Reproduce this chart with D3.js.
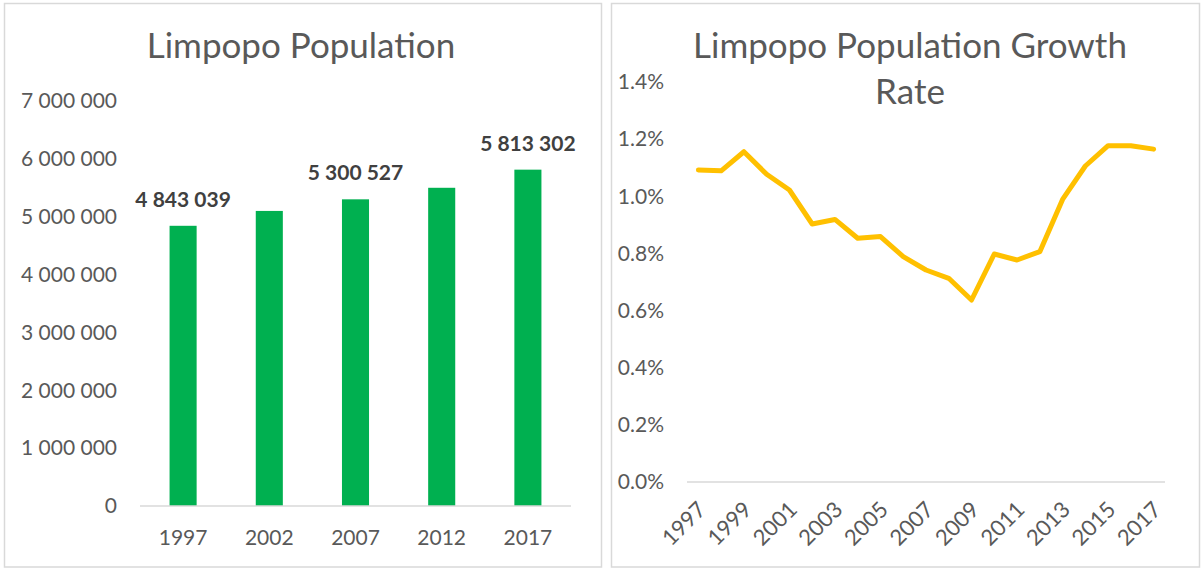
<!DOCTYPE html>
<html>
<head>
<meta charset="utf-8">
<script src="https://cdn.jsdelivr.net/npm/d3@7"></script>
<style>
  html, body { margin: 0; padding: 0; background: #fff; }
  svg { display: block; font-family: Lato, 'Open Sans', sans-serif; }
</style>
</head>
<body>
<svg id="chart" width="1203" height="569"></svg>
<script>
// left chart: population
const popYears = ['1997', '2002', '2007', '2012', '2017'];
const popValues = [4843039, 5100000, 5300527, 5500000, 5813302];
const popLabelled = ['1997', '2007', '2017'];
const popTicks = [0, 1000000, 2000000, 3000000, 4000000, 5000000, 6000000, 7000000];

// right chart: growth rate (%)
const rateYears = d3.range(1997, 2018).map(String);
const rateValues = [1.092, 1.089, 1.156, 1.077, 1.022, 0.903, 0.919, 0.853, 0.859, 0.789,
  0.742, 0.713, 0.637, 0.798, 0.777, 0.806, 0.989, 1.106, 1.177, 1.177, 1.165];
const rateTickLabels = ['1997', '1999', '2001', '2003', '2005', '2007', '2009', '2011', '2013', '2015', '2017'];
const rateTicks = [0, 0.2, 0.4, 0.6, 0.8, 1.0, 1.2, 1.4];

const textColor = '#595959';
const gridColor = '#d9d9d9';

const svg = d3.select('#chart');
const locale = d3.formatLocale({ decimal: '.', thousands: ' ', grouping: [3], currency: ['', ''] });
const fmtPop = locale.format(',d');

// panel frames
svg.append('rect').attr('x', 4.5).attr('y', 3.5).attr('width', 597).attr('height', 563.5)
  .attr('fill', 'none').attr('stroke', gridColor).attr('stroke-width', 1.5);
svg.append('rect').attr('x', 611.5).attr('y', 3.5).attr('width', 588).attr('height', 563.5)
  .attr('fill', 'none').attr('stroke', gridColor).attr('stroke-width', 1.5);

// ---------- left ----------
const left = svg.append('g');
const x1 = d3.scaleBand().domain(popYears).range([140, 571]);
const y1 = d3.scaleLinear().domain([0, 7000000]).range([506, 101]);
const barW = x1.bandwidth() * 0.314;

left.append('text')
  .attr('x', 301).attr('y', 58)
  .attr('text-anchor', 'middle')
  .attr('fill', textColor)
  .style('font-size', '35px')
  .text('Limpopo Population');

left.append('g').selectAll('text')
  .data(popTicks)
  .enter()
  .append('text')
  .attr('x', 117)
  .attr('y', (d) => y1(d))
  .attr('dy', '0.35em')
  .attr('text-anchor', 'end')
  .attr('fill', textColor)
  .style('font-size', '21px')
  .text((d) => fmtPop(d));

left.append('g').selectAll('rect')
  .data(popYears)
  .enter()
  .append('rect')
  .attr('fill', '#00b050')
  .attr('x', (d) => x1(d) + x1.bandwidth() / 2 - barW / 2)
  .attr('width', barW)
  .attr('y', (d, i) => y1(popValues[i]))
  .attr('height', (d, i) => y1(0) - y1(popValues[i]));

left.append('line')
  .attr('x1', x1.range()[0]).attr('x2', x1.range()[1])
  .attr('y1', y1(0)).attr('y2', y1(0))
  .attr('stroke', gridColor).attr('stroke-width', 1.5);

left.append('g').selectAll('text')
  .data(popYears)
  .enter()
  .append('text')
  .attr('x', (d) => x1(d) + x1.bandwidth() / 2)
  .attr('y', 545)
  .attr('text-anchor', 'middle')
  .attr('fill', textColor)
  .style('font-size', '21px')
  .text((d) => d);

left.append('g').selectAll('text')
  .data(popYears.filter((d) => popLabelled.includes(d)))
  .enter()
  .append('text')
  .attr('x', (d) => x1(d) + x1.bandwidth() / 2)
  .attr('y', (d) => y1(popValues[popYears.indexOf(d)]) - 19)
  .attr('text-anchor', 'middle')
  .attr('fill', '#404040')
  .style('font-size', '21px')
  .style('font-weight', 'bold')
  .text((d) => fmtPop(popValues[popYears.indexOf(d)]));

// ---------- right ----------
const right = svg.append('g');
const x2 = d3.scaleBand().domain(rateYears).range([687, 1165]);
const y2 = d3.scaleLinear().domain([0, 1.4]).range([482, 82]);

right.append('text')
  .attr('x', 910).attr('y', 58)
  .attr('text-anchor', 'middle')
  .attr('fill', textColor)
  .style('font-size', '35px')
  .text('Limpopo Population Growth');
right.append('text')
  .attr('x', 910).attr('y', 104)
  .attr('text-anchor', 'middle')
  .attr('fill', textColor)
  .style('font-size', '35px')
  .text('Rate');

right.append('g').selectAll('text')
  .data(rateTicks)
  .enter()
  .append('text')
  .attr('x', 664)
  .attr('y', (d) => y2(d))
  .attr('dy', '0.35em')
  .attr('text-anchor', 'end')
  .attr('fill', textColor)
  .style('font-size', '21px')
  .text((d) => d.toFixed(1) + '%');

right.append('line')
  .attr('x1', x2.range()[0]).attr('x2', x2.range()[1])
  .attr('y1', y2(0)).attr('y2', y2(0))
  .attr('stroke', gridColor).attr('stroke-width', 1.5);

const line = d3.line()
  .x((d, i) => x2(rateYears[i]) + x2.bandwidth() / 2)
  .y((d) => y2(d));

right.append('path')
  .datum(rateValues)
  .attr('d', line)
  .attr('fill', 'none')
  .attr('stroke', '#ffc000')
  .attr('stroke-width', 5)
  .attr('stroke-linejoin', 'round')
  .attr('stroke-linecap', 'round');

right.append('g').selectAll('text')
  .data(rateTickLabels)
  .enter()
  .append('text')
  .attr('text-anchor', 'end')
  .attr('transform', (d) => `translate(${x2(d) + x2.bandwidth() / 2 + 9}, 511) rotate(-45)`)
  .attr('fill', textColor)
  .style('font-size', '22px')
  .text((d) => d);
</script>
</body>
</html>
